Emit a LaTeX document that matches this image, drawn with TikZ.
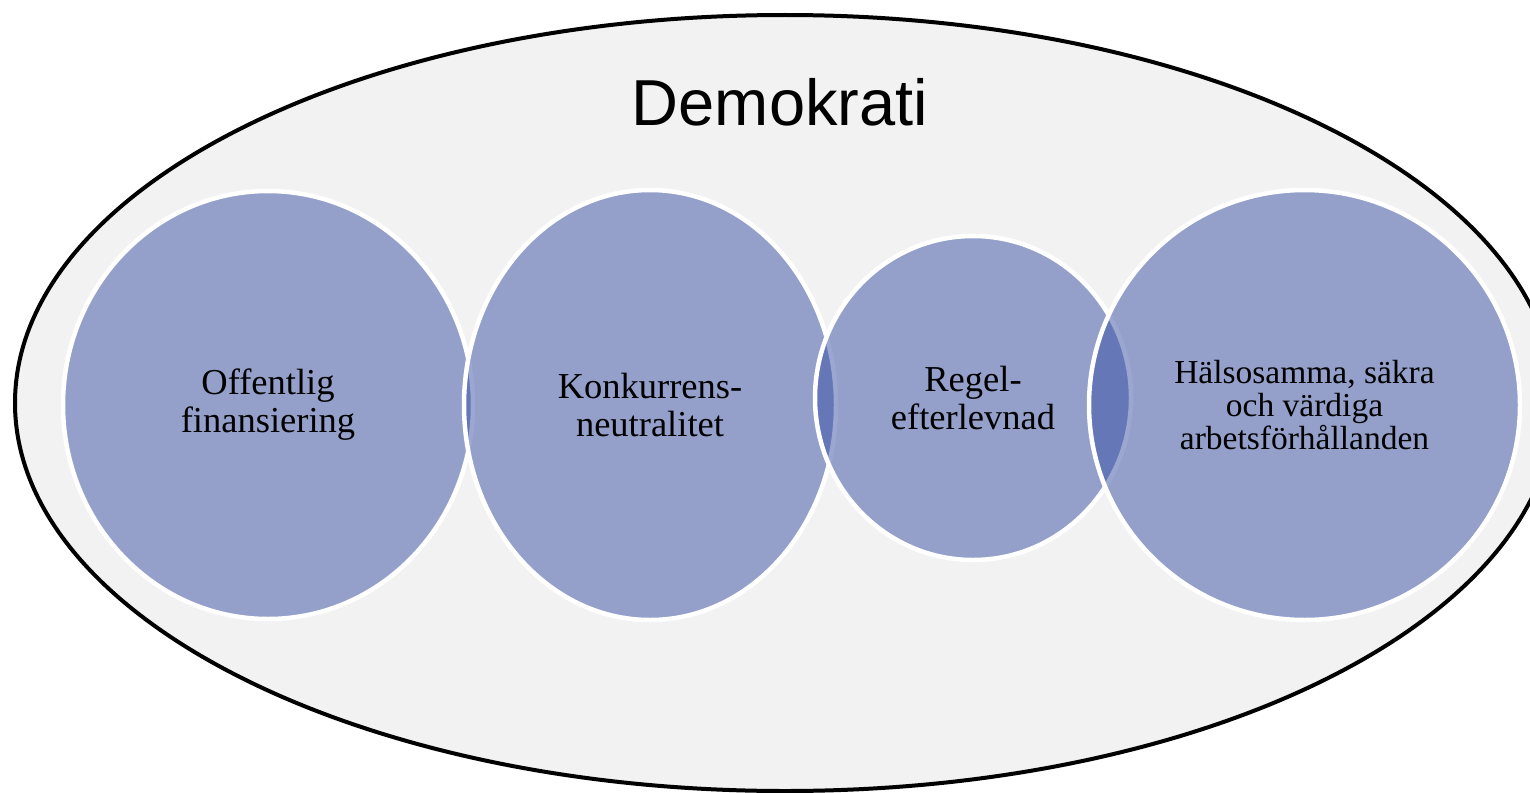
\documentclass[tikz,border=0pt]{standalone}
\usepackage{fontspec}
\setmainfont{Liberation Serif}
\newfontfamily\rubrikfont{Liberation Sans}
\usetikzlibrary{positioning,shapes.geometric}
\definecolor{bakgrund}{HTML}{F2F2F2}
\definecolor{cirkelfarg}{RGB}{56,80,164}
\begin{document}
\begin{tikzpicture}[x=1pt,y=-1pt,
    ram/.style = {ellipse, draw=black, line width=4pt, fill=bakgrund, inner sep=0pt, outer sep=0pt},
    cirkel/.style = {ellipse, draw=white, line width=4.5pt, fill=cirkelfarg, fill opacity=0.5, text opacity=1,
      inner sep=0pt, outer sep=0pt, align=center, font=\fontsize{36.5}{38}\selectfont}]
        \useasboundingbox (0,0) rectangle (1530,792);
        \node[ram, minimum width=1540pt, minimum height=776pt] (ram) at (785,403) {};
        \node[anchor=base, font=\rubrikfont\fontsize{65}{70}\selectfont] (titel) at (780,125) {Demokrati};
        %
        \node[cirkel, minimum width=410pt, minimum height=428pt] (offentlig) at (268,405) {Offentlig\\finansiering};
        \node[cirkel, minimum width=372pt, minimum height=430pt] (konkurrens) [right=-9pt of offentlig] {Konkurrens-\\neutralitet};
        \node[cirkel, minimum width=316pt, minimum height=324pt] (regel) [right=-21pt of konkurrens, yshift=7pt] {Regel-\\efterlevnad};
        \node[cirkel, minimum width=431pt, minimum height=430pt, font=\fontsize{33.5}{33}\selectfont] (halsa) [right=-42pt of regel, yshift=-7pt] {Hälsosamma, säkra\\och värdiga\\arbetsförhållanden};
      \end{tikzpicture}
\end{document}
